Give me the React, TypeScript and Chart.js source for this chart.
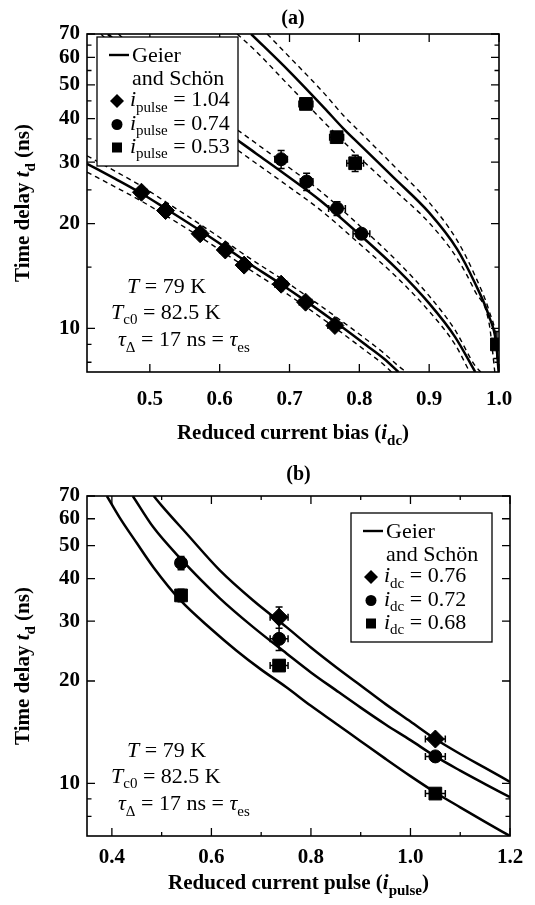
import React, { useEffect, useRef } from 'react';
import { Chart, registerables } from 'chart.js';

Chart.register(...registerables);

const FONT = '"Liberation Serif", "Times New Roman", serif';

// ---------------- Panel (a) data ----------------
const A_X_TICKS = [0.5, 0.6, 0.7, 0.8, 0.9, 1.0];
const A_X_MINOR: number[] = [];
const A_Y_TICKS = [10, 20, 30, 40, 50, 60, 70];
const A_Y_MINOR = [8, 9, 15, 25, 35, 45, 55, 65];

// i_pulse = 1.04 fit (solid) and its band (dashed)
const A_FIT1_X = [0.41, 0.45, 0.488, 0.5225, 0.572, 0.608, 0.635, 0.688, 0.723, 0.765, 0.81, 0.835, 0.856];
const A_FIT1_Y = [29.7, 26.9, 24.4, 22.1, 19.1, 17.1, 15.7, 13.4, 12.0, 10.45, 8.95, 8.2, 7.5];
const A_FIT1_HI_X = [0.41, 0.45, 0.488, 0.5225, 0.572, 0.608, 0.635, 0.688, 0.723, 0.765, 0.81, 0.835, 0.856, 0.867];
const A_FIT1_HI_Y = [31.3, 28.3, 25.6, 23.1, 19.9, 17.8, 16.3, 13.9, 12.45, 10.85, 9.3, 8.5, 7.8, 7.5];
const A_FIT1_LO_X = [0.41, 0.45, 0.488, 0.5225, 0.572, 0.608, 0.635, 0.688, 0.723, 0.765, 0.81, 0.835, 0.846];
const A_FIT1_LO_Y = [28.1, 25.5, 23.2, 21.1, 18.3, 16.4, 15.1, 12.9, 11.55, 10.05, 8.6, 7.87, 7.5];

// i_pulse = 0.74 fit
const A_FIT2_X = [0.44, 0.5, 0.55, 0.6, 0.652, 0.698, 0.744, 0.803, 0.854, 0.9, 0.937, 0.966];
const A_FIT2_Y = [70, 54, 45, 37.8, 31.8, 27.3, 23.3, 18.4, 14.8, 11.8, 9.46, 7.5];
const A_FIT2_HI_X = [0.455, 0.5, 0.55, 0.6, 0.652, 0.698, 0.744, 0.803, 0.854, 0.9, 0.937, 0.966, 0.974];
const A_FIT2_HI_Y = [70, 57.8, 48.1, 40.4, 34.0, 29.1, 24.8, 19.5, 15.6, 12.4, 9.9, 7.8, 7.5];
const A_FIT2_LO_X = [0.43, 0.5, 0.55, 0.6, 0.652, 0.698, 0.744, 0.803, 0.854, 0.9, 0.937, 0.958];
const A_FIT2_LO_Y = [70, 50.5, 42.1, 35.4, 29.8, 25.6, 21.9, 17.3, 14.0, 11.2, 9.0, 7.5];

// i_pulse = 0.53 fit
const A_FIT3_X = [0.645, 0.7, 0.75, 0.7765, 0.8, 0.85, 0.9, 0.94, 0.9655, 0.986, 0.996, 0.9995];
const A_FIT3_Y = [70, 54.6, 42.9, 37.6, 33.8, 27.0, 21.5, 16.9, 13.5, 10.8, 9.05, 7.5];
const A_FIT3_HI_X = [0.668, 0.7, 0.75, 0.7765, 0.8, 0.85, 0.9, 0.94, 0.9655, 0.986, 0.996, 0.9999];
const A_FIT3_HI_Y = [70, 60.1, 47.2, 41.0, 36.8, 29.2, 23.0, 17.9, 14.2, 11.2, 9.3, 7.5];
const A_FIT3_LO_X = [0.625, 0.65, 0.7, 0.75, 0.7765, 0.8, 0.85, 0.9, 0.94, 0.9655, 0.986, 0.994];
const A_FIT3_LO_Y = [70, 63.0, 49.6, 39.0, 34.5, 31.0, 25.0, 20.1, 15.9, 12.8, 10.3, 7.5];

// measured points
const A_DIAMOND_X = [0.488, 0.5225, 0.572, 0.608, 0.635, 0.688, 0.723, 0.765];
const A_DIAMOND_Y = [24.6, 21.8, 18.7, 16.8, 15.2, 13.4, 11.9, 10.2];
const A_DIAMOND_EX = [0.008, 0.008, 0.008, 0.008, 0.008, 0.009, 0.009, 0.01];
const A_DIAMOND_EY = [0.4, 0.4, 0.4, 0.3, 0.3, 0.3, 0.3, 0.3];
const A_CIRCLE_X = [0.688, 0.7245, 0.768, 0.803];
const A_CIRCLE_Y = [30.6, 26.4, 22.1, 18.7];
const A_CIRCLE_EX = [0.009, 0.009, 0.012, 0.012];
const A_CIRCLE_EY = [1.8, 1.5, 1.0, 0.6];
const A_SQUARE_X = [0.7235, 0.7675, 0.794, 0.997];
const A_SQUARE_Y = [44.1, 35.4, 29.8, 9.0];
const A_SQUARE_EX = [0.01, 0.01, 0.012, 0.005];
const A_SQUARE_EY = [1.5, 1.2, 1.6, 0.8];

// ---------------- Panel (b) data ----------------
const B_X_TICKS = [0.4, 0.6, 0.8, 1.0, 1.2];
const B_X_MINOR = [0.5, 0.7, 0.9, 1.1];
const B_Y_TICKS = [10, 20, 30, 40, 50, 60, 70];
const B_Y_MINOR = [8, 9];

const B_FIT76_X = [0.484, 0.5, 0.55, 0.617, 0.684, 0.751, 0.8, 0.85, 0.9, 0.95, 1.0, 1.05, 1.1, 1.15, 1.2];
const B_FIT76_Y = [70, 65.6, 54.3, 42.3, 34.5, 28.8, 25.1, 22.0, 19.4, 17.1, 15.2, 13.5, 12.2, 11.1, 10.1];
const B_FIT72_X = [0.442, 0.483, 0.538, 0.617, 0.684, 0.751, 0.8, 0.85, 0.9, 0.95, 1.0, 1.05, 1.1, 1.15, 1.2];
const B_FIT72_Y = [70, 56.7, 45.8, 35.0, 28.8, 24.1, 21.2, 18.8, 16.7, 14.9, 13.4, 12.0, 10.9, 9.95, 9.1];
const B_FIT68_X = [0.39, 0.415, 0.45, 0.483, 0.538, 0.6, 0.65, 0.7, 0.75, 0.8, 0.85, 0.9, 0.95, 1.0, 1.05, 1.1, 1.15, 1.2];
const B_FIT68_Y = [70, 60.7, 50.9, 43.3, 34.5, 28.4, 24.6, 21.6, 19.2, 16.9, 15.0, 13.3, 11.8, 10.5, 9.4, 8.5, 7.7, 7.0];

const B_DIAMOND_X = [0.736, 1.05];
const B_DIAMOND_Y = [30.8, 13.5];
const B_DIAMOND_EX = [0.018, 0.02];
const B_DIAMOND_EY = [2.2, 0.4];
const B_CIRCLE_X = [0.539, 0.736, 1.05];
const B_CIRCLE_Y = [44.5, 26.6, 12.0];
const B_CIRCLE_EX = [0.01, 0.018, 0.02];
const B_CIRCLE_EY = [2.0, 2.0, 0.3];
const B_SQUARE_X = [0.539, 0.736, 1.05];
const B_SQUARE_Y = [35.7, 22.2, 9.33];
const B_SQUARE_EX = [0.008, 0.018, 0.02];
const B_SQUARE_EY = [1.5, 0.8, 0.2];

// ---------------- text ----------------
type Seg = { t: string; it?: boolean; sub?: boolean };

const A_LEGEND_LABELS = ['1.04', '0.74', '0.53'];
const B_LEGEND_LABELS = ['0.76', '0.72', '0.68'];

const NOTE_ROWS: Seg[][] = [
  [{ t: 'T', it: true }, { t: ' = 79 K' }],
  [{ t: 'T', it: true }, { t: 'c0', sub: true }, { t: ' = 82.5 K' }],
  [{ t: 'τ', it: true }, { t: 'Δ', sub: true }, { t: ' = 17 ns = ' }, { t: 'τ', it: true }, { t: 'es', sub: true }],
];

const Y_TITLE: Seg[] = [{ t: 'Time delay ' }, { t: 't', it: true }, { t: 'd', sub: true }, { t: ' (ns)' }];
const A_X_TITLE: Seg[] = [{ t: 'Reduced current bias (' }, { t: 'i', it: true }, { t: 'dc', sub: true }, { t: ')' }];
const B_X_TITLE: Seg[] = [{ t: 'Reduced current pulse (' }, { t: 'i', it: true }, { t: 'pulse', sub: true }, { t: ')' }];

const TEXT_SIZE = 22;

function drawRich(ctx: CanvasRenderingContext2D, segs: Seg[], x: number, y: number, size: number, bold: boolean, align: 'left' | 'center') {
  const sub = Math.round(size * 0.7);
  const f = (s: Seg) => `${s.it ? 'italic ' : ''}${bold ? 'bold ' : ''}${s.sub ? sub : size}px ${FONT}`;
  let w = 0;
  for (const s of segs) {
    ctx.font = f(s);
    w += ctx.measureText(s.t).width;
  }
  let cx = align === 'center' ? x - w / 2 : x;
  ctx.textAlign = 'left';
  ctx.textBaseline = 'alphabetic';
  for (const s of segs) {
    ctx.font = f(s);
    ctx.fillText(s.t, cx, y + (s.sub ? size * 0.27 : 0));
    cx += ctx.measureText(s.t).width;
  }
}

function drawMarker(ctx: CanvasRenderingContext2D, kind: string, x: number, y: number) {
  ctx.beginPath();
  if (kind === 'rectRot') {
    const r = 7;
    ctx.moveTo(x - r, y); ctx.lineTo(x, y - r); ctx.lineTo(x + r, y); ctx.lineTo(x, y + r); ctx.closePath();
  } else if (kind === 'circle') {
    ctx.arc(x, y, 5.5, 0, Math.PI * 2);
  } else {
    ctx.rect(x - 5, y - 5, 10, 10);
  }
  ctx.fill();
}

type Fit = { x: number[]; y: number[]; dashed?: boolean };
type Pts = { x: number[]; y: number[]; ex: number[]; ey: number[]; style: string; radius: number };

type Spec = {
  letter: string;
  height: number;
  xMin: number; xMax: number; yMin: number; yMax: number;
  xTicks: number[]; xMinor: number[]; yTicks: number[]; yMinor: number[];
  fits: Fit[]; points: Pts[];
  padTop: number; padRight: number; xAxisHeight: number; xTickPad: number;
  xTitle: Seg[]; xTitleOffset: number; titleOffset: number;
  legendSub: string; legendLabels: string[];
  legendPos: (a: any) => { left: number; top: number };
};

function makeDecor(s: Spec) {
  return {
    id: 'decor',
    beforeDatasetsDraw(chart: any) {
      const { ctx, chartArea: a } = chart;
      const xs = chart.scales.x, ys = chart.scales.y;
      ctx.save();
      ctx.beginPath();
      ctx.rect(a.left, a.top, a.right - a.left, a.bottom - a.top);
      ctx.clip();
      ctx.strokeStyle = '#000';
      ctx.lineWidth = 1.5;
      ctx.beginPath();
      s.points.forEach((p) => {
        p.x.forEach((xv, i) => {
          const px = xs.getPixelForValue(xv), py = ys.getPixelForValue(p.y[i]);
          const x1 = xs.getPixelForValue(xv - p.ex[i]), x2 = xs.getPixelForValue(xv + p.ex[i]);
          const y1 = ys.getPixelForValue(p.y[i] + p.ey[i]), y2 = ys.getPixelForValue(p.y[i] - p.ey[i]);
          ctx.moveTo(x1, py); ctx.lineTo(x2, py);
          ctx.moveTo(x1, py - 3.5); ctx.lineTo(x1, py + 3.5);
          ctx.moveTo(x2, py - 3.5); ctx.lineTo(x2, py + 3.5);
          ctx.moveTo(px, y1); ctx.lineTo(px, y2);
          ctx.moveTo(px - 3.5, y1); ctx.lineTo(px + 3.5, y1);
          ctx.moveTo(px - 3.5, y2); ctx.lineTo(px + 3.5, y2);
        });
      });
      ctx.stroke();
      ctx.restore();
    },
    afterDatasetsDraw(chart: any) {
      const { ctx, chartArea: a } = chart;
      const xs = chart.scales.x, ys = chart.scales.y;
      ctx.save();
      ctx.strokeStyle = '#000';
      ctx.fillStyle = '#000';
      // inward ticks
      ctx.lineWidth = 1.3;
      ctx.beginPath();
      const xt = (v: number, len: number) => {
        const p = xs.getPixelForValue(v);
        ctx.moveTo(p, a.bottom); ctx.lineTo(p, a.bottom - len);
        ctx.moveTo(p, a.top); ctx.lineTo(p, a.top + len);
      };
      const yt = (v: number, len: number) => {
        const p = ys.getPixelForValue(v);
        ctx.moveTo(a.left, p); ctx.lineTo(a.left + len, p);
        ctx.moveTo(a.right, p); ctx.lineTo(a.right - len, p);
      };
      s.xTicks.forEach((v) => xt(v, 8));
      s.xMinor.forEach((v) => xt(v, 4));
      s.yTicks.forEach((v) => yt(v, 8));
      s.yMinor.forEach((v) => yt(v, 4.5));
      ctx.stroke();
      // frame
      ctx.lineWidth = 1.6;
      ctx.strokeRect(a.left, a.top, a.right - a.left, a.bottom - a.top);

      // parameter notes
      const nx = [40, 24, 31];
      const ny = [-86, -60.5, -33];
      NOTE_ROWS.forEach((segs, i) => drawRich(ctx, segs, a.left + nx[i], a.bottom + ny[i] + 7, TEXT_SIZE, false, 'left'));

      // legend box
      const lp = s.legendPos(a);
      const lw = 141, lh = 129;
      ctx.fillStyle = '#fff';
      ctx.fillRect(lp.left, lp.top, lw, lh);
      ctx.lineWidth = 1.3;
      ctx.strokeStyle = '#000';
      ctx.strokeRect(lp.left, lp.top, lw, lh);
      ctx.fillStyle = '#000';
      const rows = [18, 41, 64, 87.5, 110.5];
      ctx.lineWidth = 2.4;
      ctx.beginPath();
      ctx.moveTo(lp.left + 12, lp.top + rows[0]);
      ctx.lineTo(lp.left + 32, lp.top + rows[0]);
      ctx.stroke();
      drawRich(ctx, [{ t: 'Geier' }], lp.left + 35, lp.top + rows[0] + 7, TEXT_SIZE, false, 'left');
      drawRich(ctx, [{ t: 'and Schön' }], lp.left + 35, lp.top + rows[1] + 7, TEXT_SIZE, false, 'left');
      const styles = ['rectRot', 'circle', 'rect'];
      s.legendLabels.forEach((lab, i) => {
        drawMarker(ctx, styles[i], lp.left + 20, lp.top + rows[i + 2]);
        drawRich(ctx, [{ t: 'i', it: true }, { t: s.legendSub, sub: true }, { t: ' = ' + lab }], lp.left + 33, lp.top + rows[i + 2] + 5, TEXT_SIZE, false, 'left');
      });
      ctx.restore();
    },
    afterDraw(chart: any) {
      const { ctx, chartArea: a } = chart;
      ctx.save();
      ctx.fillStyle = '#000';
      const cx = (a.left + a.right) / 2;
      drawRich(ctx, [{ t: '(' + s.letter + ')' }], cx, a.top - s.titleOffset, 20, true, 'center');
      drawRich(ctx, s.xTitle, cx, a.bottom + s.xTitleOffset, 21, true, 'center');
      ctx.translate(29, (a.top + a.bottom) / 2);
      ctx.rotate(-Math.PI / 2);
      drawRich(ctx, Y_TITLE, 0, 0, 21, true, 'center');
      ctx.restore();
    },
  };
}

function buildConfig(s: Spec): any {
  const datasets: any[] = [];
  s.fits.forEach((f) =>
    datasets.push({
      type: 'line',
      data: f.x.map((v, i) => ({ x: v, y: f.y[i] })),
      borderColor: '#000',
      borderWidth: f.dashed ? 1.4 : 2.5,
      borderDash: f.dashed ? [5, 4] : [],
      pointRadius: 0,
      fill: false,
      cubicInterpolationMode: 'monotone',
    })
  );
  s.points.forEach((p) =>
    datasets.push({
      type: 'scatter',
      data: p.x.map((v, i) => ({ x: v, y: p.y[i] })),
      pointStyle: p.style,
      pointRadius: p.radius,
      backgroundColor: '#000',
      borderColor: '#000',
      borderWidth: 1,
    })
  );
  const tickFont = { family: FONT, size: 21, weight: 'bold' as const };
  return {
    type: 'scatter',
    data: { datasets },
    options: {
      animation: false,
      responsive: false,
      events: [],
      layout: { padding: { left: 0, top: s.padTop, right: s.padRight, bottom: 0 } },
      plugins: { legend: { display: false }, tooltip: { enabled: false }, title: { display: false } },
      scales: {
        x: {
          type: 'linear',
          min: s.xMin,
          max: s.xMax,
          afterBuildTicks: (sc: any) => { sc.ticks = s.xTicks.map((v) => ({ value: v })); },
          afterFit: (sc: any) => { sc.height = s.xAxisHeight; },
          grid: { display: false, drawTicks: false },
          border: { display: false },
          ticks: { font: tickFont, color: '#000', padding: s.xTickPad, maxRotation: 0, autoSkip: false, callback: (v: any) => Number(v).toFixed(1) },
        },
        y: {
          type: 'logarithmic',
          min: s.yMin,
          max: s.yMax,
          afterBuildTicks: (sc: any) => { sc.ticks = s.yTicks.map((v) => ({ value: v })); },
          afterFit: (sc: any) => { sc.width = 87; },
          grid: { display: false, drawTicks: false },
          border: { display: false },
          ticks: { font: tickFont, color: '#000', padding: 7, autoSkip: false, callback: (v: any) => String(v) },
        },
      },
    },
    plugins: [makeDecor(s)],
  };
}

const SPEC_A: Spec = {
  letter: 'a',
  height: 455,
  xMin: 0.41, xMax: 1.0, yMin: 7.5, yMax: 70,
  xTicks: A_X_TICKS, xMinor: A_X_MINOR, yTicks: A_Y_TICKS, yMinor: A_Y_MINOR,
  fits: [
    { x: A_FIT1_X, y: A_FIT1_Y },
    { x: A_FIT1_HI_X, y: A_FIT1_HI_Y, dashed: true },
    { x: A_FIT1_LO_X, y: A_FIT1_LO_Y, dashed: true },
    { x: A_FIT2_X, y: A_FIT2_Y },
    { x: A_FIT2_HI_X, y: A_FIT2_HI_Y, dashed: true },
    { x: A_FIT2_LO_X, y: A_FIT2_LO_Y, dashed: true },
    { x: A_FIT3_X, y: A_FIT3_Y },
    { x: A_FIT3_HI_X, y: A_FIT3_HI_Y, dashed: true },
    { x: A_FIT3_LO_X, y: A_FIT3_LO_Y, dashed: true },
  ],
  points: [
    { x: A_DIAMOND_X, y: A_DIAMOND_Y, ex: A_DIAMOND_EX, ey: A_DIAMOND_EY, style: 'rectRot', radius: 9 },
    { x: A_CIRCLE_X, y: A_CIRCLE_Y, ex: A_CIRCLE_EX, ey: A_CIRCLE_EY, style: 'circle', radius: 6.5 },
    { x: A_SQUARE_X, y: A_SQUARE_Y, ex: A_SQUARE_EX, ey: A_SQUARE_EY, style: 'rect', radius: 9 },
  ],
  padTop: 34, padRight: 36, xAxisHeight: 83, xTickPad: 15,
  xTitle: A_X_TITLE, xTitleOffset: 67, titleOffset: 10,
  legendSub: 'pulse', legendLabels: A_LEGEND_LABELS,
  legendPos: (a) => ({ left: a.left + 10, top: a.top + 3 }),
};

const SPEC_B: Spec = {
  letter: 'b',
  height: 450,
  xMin: 0.35, xMax: 1.2, yMin: 7, yMax: 70,
  xTicks: B_X_TICKS, xMinor: B_X_MINOR, yTicks: B_Y_TICKS, yMinor: B_Y_MINOR,
  fits: [
    { x: B_FIT76_X, y: B_FIT76_Y },
    { x: B_FIT72_X, y: B_FIT72_Y },
    { x: B_FIT68_X, y: B_FIT68_Y },
  ],
  points: [
    { x: B_DIAMOND_X, y: B_DIAMOND_Y, ex: B_DIAMOND_EX, ey: B_DIAMOND_EY, style: 'rectRot', radius: 9 },
    { x: B_CIRCLE_X, y: B_CIRCLE_Y, ex: B_CIRCLE_EX, ey: B_CIRCLE_EY, style: 'circle', radius: 6.5 },
    { x: B_SQUARE_X, y: B_SQUARE_Y, ex: B_SQUARE_EX, ey: B_SQUARE_EY, style: 'rect', radius: 9 },
  ],
  padTop: 41, padRight: 25, xAxisHeight: 69, xTickPad: 9,
  xTitle: B_X_TITLE, xTitleOffset: 53, titleOffset: 16,
  legendSub: 'dc', legendLabels: B_LEGEND_LABELS,
  legendPos: (a) => ({ left: a.right - 159, top: a.top + 17 }),
};

function Panel({ spec, top }: { spec: Spec; top: number }) {
  const ref = useRef<HTMLCanvasElement>(null);
  useEffect(() => {
    const chart = new Chart(ref.current as HTMLCanvasElement, buildConfig(spec));
    return () => chart.destroy();
  }, [spec]);
  return (
    <canvas
      ref={ref}
      width={535}
      height={spec.height}
      style={{ position: 'absolute', left: 0, top, width: 535, height: spec.height, display: 'block' }}
    />
  );
}

export default function App() {
  return (
    <div style={{ position: 'absolute', left: 0, top: 0, width: 535, height: 905, background: '#fff', overflow: 'hidden' }}>
      <Panel spec={SPEC_A} top={0} />
      <Panel spec={SPEC_B} top={455} />
    </div>
  );
}
